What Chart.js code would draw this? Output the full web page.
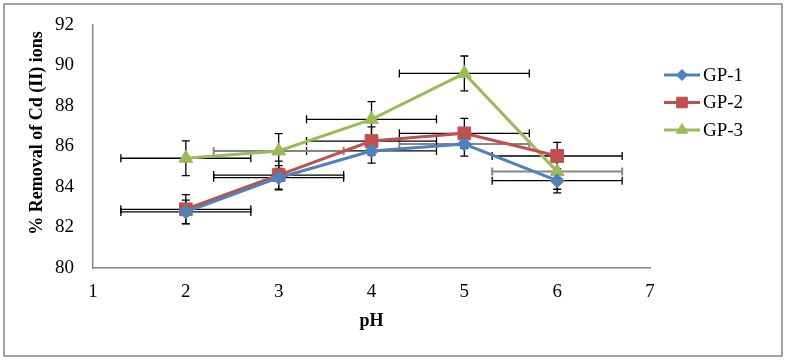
<!DOCTYPE html>
<html>
<head>
<meta charset="utf-8">
<script src="https://cdn.jsdelivr.net/npm/chart.js@4/dist/chart.umd.min.js"></script>
<style>
  html, body { margin: 0; padding: 0; background: #fff; }
  #wrap { position: relative; width: 787px; height: 360px; }
</style>
</head>
<body>
<div id="wrap"><canvas id="c" width="787" height="360"></canvas></div>
<script>
// ---- data --------------------------------------------------------------------
const PH_VALUES = [2, 3, 4, 5, 6];
const GP1 = [82.77, 84.46, 85.78, 86.12, 84.31];
const GP2 = [82.9, 84.59, 86.27, 86.65, 85.53];
const GP3 = [85.42, 85.78, 87.34, 89.61, 84.76];

// vertical (% removal) and horizontal (pH) error amounts
const GP1_YERR = [0.58, 0.6, 0.6, 0.6, 0.6];
const GP2_YERR = [0.72, 0.69, 0.7, 0.74, 0.67];
const GP3_YERR = [0.86, 0.86, 0.88, 0.86, 0.87];
const PH_ERR   = [0.7, 0.7, 0.7, 0.7, 0.7];

// a few horizontal bars are drawn grey in the original
const GP1_XERR_GREY = [false, false, false, true, false];
const GP2_XERR_GREY = [false, false, false, false, false];
const GP3_XERR_GREY = [false, true, false, false, true];

const SERIES_NAMES = ['GP-1', 'GP-2', 'GP-3'];
const Y_TITLE = '% Removal of Cd (II) ions';
const X_TITLE = 'pH';

const SERIF  = '"Liberation Serif", "Times New Roman", Times, serif';
const GREY   = '#868686';
const COLORS = ['#4F81BD', '#C0504D', '#9BBB59'];
const STYLES = [
  { pointStyle: 'rectRot',  radius: 7 },
  { pointStyle: 'rect',     radius: 9 },
  { pointStyle: 'triangle', radius: 8 },
];

function series(i, ys, yErr, greyX) {
  return {
    label: SERIES_NAMES[i],
    data: PH_VALUES.map((x, j) => ({ x, y: ys[j] })),
    yErr, xErr: PH_ERR, greyX,
    borderColor: COLORS[i], backgroundColor: COLORS[i],
    pointBackgroundColor: COLORS[i], pointBorderColor: COLORS[i],
    borderWidth: 3, pointBorderWidth: 1,
    pointStyle: STYLES[i].pointStyle, pointRadius: STYLES[i].radius,
    tension: 0,
  };
}

// ---- plugins -------------------------------------------------------------------
const frame = {
  id: 'frame',
  beforeDraw(chart) {
    const ctx = chart.ctx;
    ctx.save();
    ctx.strokeStyle = GREY;
    ctx.lineWidth = 1.5;
    ctx.strokeRect(4, 4, 778, 352);
    ctx.restore();
  },
};

const errorBars = {
  id: 'errorBars',
  beforeDatasetsDraw(chart) {
    const { ctx, scales: { x, y } } = chart;
    const cap = 4;
    ctx.save();
    chart.data.datasets.forEach(d => {
      d.data.forEach((pt, j) => {
        const px = x.getPixelForValue(pt.x), py = y.getPixelForValue(pt.y);
        // horizontal
        const x0 = x.getPixelForValue(pt.x - d.xErr[j]), x1 = x.getPixelForValue(pt.x + d.xErr[j]);
        ctx.strokeStyle = d.greyX[j] ? GREY : '#000';
        ctx.lineWidth = d.greyX[j] ? 2 : 1.3;
        ctx.beginPath();
        ctx.moveTo(x0, py); ctx.lineTo(x1, py);
        ctx.moveTo(x0, py - cap); ctx.lineTo(x0, py + cap);
        ctx.moveTo(x1, py - cap); ctx.lineTo(x1, py + cap);
        ctx.stroke();
        // vertical
        const y0 = y.getPixelForValue(pt.y - d.yErr[j]), y1 = y.getPixelForValue(pt.y + d.yErr[j]);
        ctx.strokeStyle = '#000';
        ctx.lineWidth = 1.3;
        ctx.beginPath();
        ctx.moveTo(px, y0); ctx.lineTo(px, y1);
        ctx.moveTo(px - cap, y0); ctx.lineTo(px + cap, y0);
        ctx.moveTo(px - cap, y1); ctx.lineTo(px + cap, y1);
        ctx.stroke();
      });
    });
    ctx.restore();
  },
};

const sideText = {
  id: 'sideText',
  afterDraw(chart) {
    const ctx = chart.ctx;
    ctx.save();
    // y-axis title, sits a little above the plot's middle like the original
    ctx.translate(37, 133);
    ctx.rotate(-Math.PI / 2);
    ctx.font = 'bold 18px ' + SERIF;
    ctx.fillStyle = '#000';
    ctx.textAlign = 'center';
    ctx.textBaseline = 'middle';
    ctx.fillText(Y_TITLE, 0, 0);
    ctx.restore();

    // legend: line + marker + name
    ctx.save();
    ctx.font = '19px ' + SERIF;
    ctx.textBaseline = 'middle';
    chart.data.datasets.forEach((d, i) => {
      const ly = 75 + i * 27.5;
      ctx.strokeStyle = COLORS[i];
      ctx.fillStyle = COLORS[i];
      ctx.lineWidth = 3;
      ctx.beginPath(); ctx.moveTo(664, ly); ctx.lineTo(700, ly); ctx.stroke();
      ctx.lineWidth = 1;
      Chart.helpers.drawPoint(ctx, { pointStyle: STYLES[i].pointStyle, radius: STYLES[i].radius - 1.5,
        rotation: 0, borderWidth: 1 }, 682, ly);
      ctx.fillStyle = '#000';
      ctx.fillText(d.label, 703, ly + 1);
    });
    ctx.restore();
  },
};

// ---- chart ---------------------------------------------------------------------
new Chart(document.getElementById('c'), {
  type: 'line',
  data: {
    datasets: [
      series(0, GP1, GP1_YERR, GP1_XERR_GREY),
      series(1, GP2, GP2_YERR, GP2_XERR_GREY),
      series(2, GP3, GP3_YERR, GP3_XERR_GREY),
    ],
  },
  options: {
    animation: false,
    responsive: false,
    plugins: { legend: { display: false }, tooltip: { enabled: false } },
    layout: { padding: { left: 0, right: 137, top: 25, bottom: 0 } },
    scales: {
      x: {
        type: 'linear', min: 1, max: 7,
        ticks: { stepSize: 1, color: '#000', padding: 13, maxRotation: 0, font: { size: 19, family: SERIF } },
        grid: { display: false, drawTicks: false },
        border: { color: GREY, width: 1.5 },
        title: { display: true, text: X_TITLE, color: '#000', padding: { top: 0, bottom: 28 },
          font: { size: 18, weight: 'bold', family: SERIF } },
        afterFit(s) { s.height = 92; },
      },
      y: {
        type: 'linear', min: 80, max: 92,
        // gap to the labels comes from an invisible tick length so it doesn't pad the plot top
        ticks: { stepSize: 2, color: '#000', padding: 0, font: { size: 19, family: SERIF } },
        grid: { display: false, drawTicks: true, tickLength: 19 },
        border: { color: GREY, width: 1.5 },
        afterFit(s) { s.width = 93; },
      },
    },
  },
  plugins: [frame, errorBars, sideText],
});
</script>
</body>
</html>
